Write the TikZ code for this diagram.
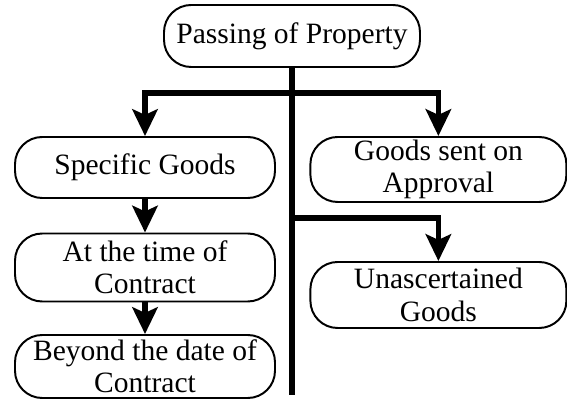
\documentclass[tikz,border=0pt]{standalone}
\usepackage{fontspec}
\setmainfont{Liberation Serif}
\usetikzlibrary{arrows.meta}

\begin{document}
\begin{tikzpicture}[
  box/.style = {draw, line width = 1.4pt, rounded corners = 0.68cm, align = center,
                inner sep = 0pt, font = \fontsize{21}{23}\selectfont},
  link/.style = {line width = 3.8pt},
  linkarr/.style = {line width = 3.8pt, -{Stealth[length = 19pt, width = 18pt, inset = 4pt]}}
]
\useasboundingbox (0,0) rectangle (14.175,10);
\node[box, minimum width = 6.4cm, minimum height = 1.55cm] (prop) at (7.3, 9.1) {Passing of Property};
\node[box, minimum width = 6.5cm, minimum height = 1.525cm] (spec) at (3.625, 5.8125) {Specific Goods};
\node[box, minimum width = 6.5cm, minimum height = 1.7cm] (time) at (3.625, 3.3125) {At the time of\\Contract};
\node[box, minimum width = 6.5cm, minimum height = 1.575cm] (beyond) at (3.625, 0.8375) {Beyond the date of\\Contract};
\node[box, minimum width = 6.4cm, minimum height = 1.625cm] (appr) at (10.96, 5.7625) {Goods sent on\\Approval};
\node[box, minimum width = 6.4cm, minimum height = 1.65cm] (unasc) at (10.96, 2.625) {Unascertained\\Goods};
\coordinate (trunkend) at (7.3, 0.125);
\coordinate (barl) at (3.625, 7.675);
\coordinate (barr) at (10.96, 7.675);
\coordinate (fork) at (7.3, 4.55);
\draw[link] (prop.south) -- (trunkend);
\draw[link] ([xshift = -1.9pt]barl) -- ([xshift = 1.9pt]barr);
\draw[linkarr] (barl) -- (spec.north);
\draw[linkarr] (barr) -- (appr.north);
\draw[linkarr] (fork) -| (unasc.north);
\draw[linkarr] (spec) -- (time);
\draw[linkarr] (time) -- (beyond);
\end{tikzpicture}
\end{document}
